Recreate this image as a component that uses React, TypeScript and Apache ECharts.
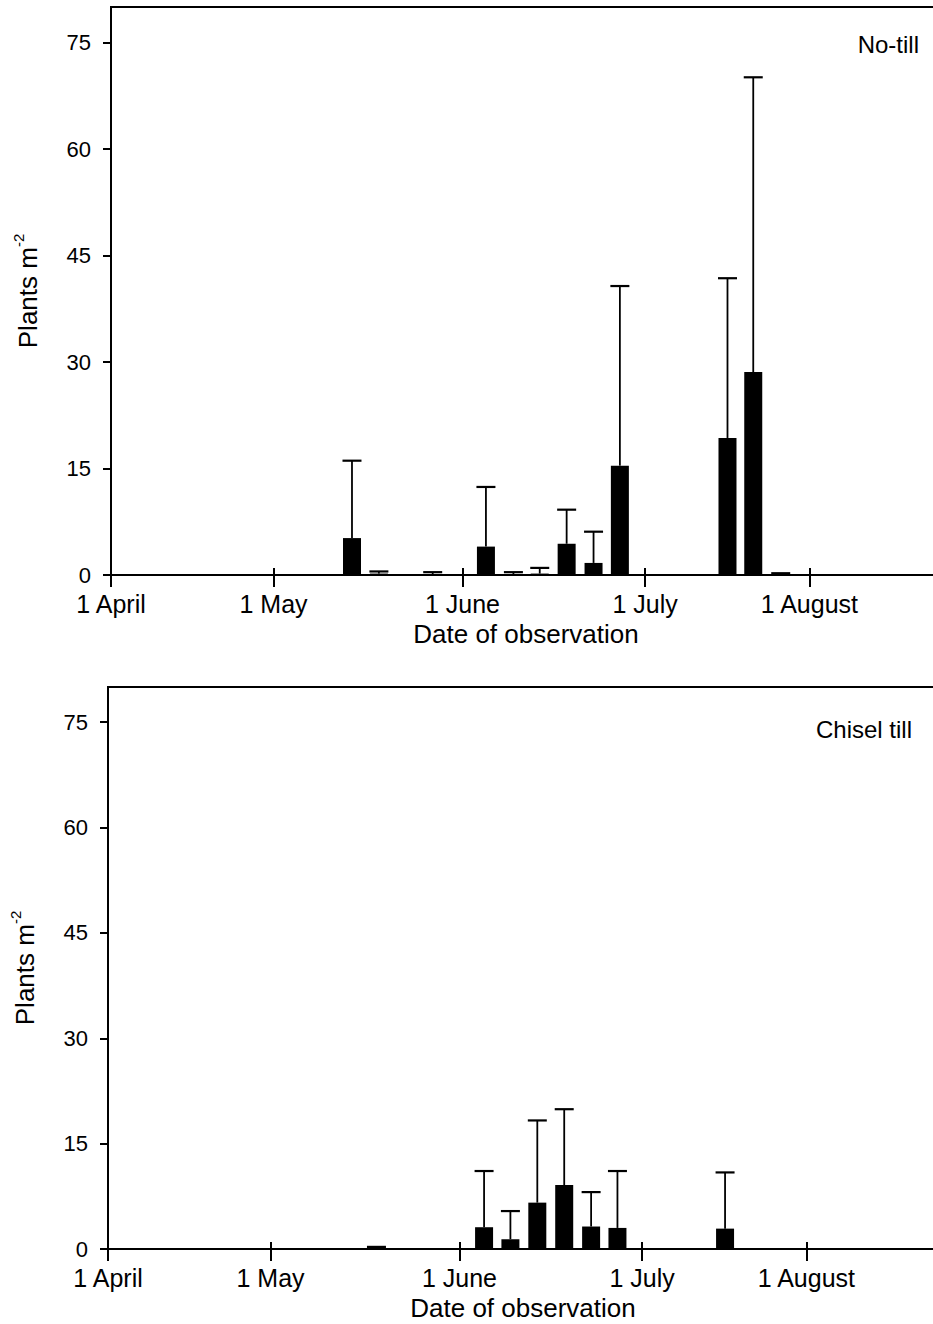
import React, { useEffect, useRef } from "react";
import * as echarts from "echarts";

// x axis unit: days after 1 April (as drawn by the figure's axis)
const monthTickValues = [0, 28.4, 61.4, 93.3, 122];
const monthLabels = ["1 April", "1 May", "1 June", "1 July", "1 August"];
const yTickValues = [0, 15, 30, 45, 60, 75];

// No-till panel
const noTillDays = [42.1, 46.8, 56.2, 65.5, 70.3, 74.9, 79.6, 84.3, 88.9, 107.7, 112.2, 117.0];
const noTillMeans = [5.2, 0.2, 0.1, 4.0, 0.1, 0.2, 4.4, 1.7, 15.4, 19.3, 28.6, 0.05];
const noTillUpper = [16.1, 0.5, 0.4, 12.4, 0.4, 1.0, 9.2, 6.1, 40.7, 41.8, 70.1, 0.25];

// Chisel till panel
const chiselDays = [46.9, 65.7, 70.3, 75.0, 79.7, 84.4, 89.0, 107.8];
const chiselMeans = [0.05, 3.1, 1.4, 6.6, 9.1, 3.2, 3.0, 2.9];
const chiselUpper = [0.3, 11.1, 5.4, 18.3, 19.9, 8.1, 11.1, 10.9];

const FONT = "'Liberation Sans', Arial, Helvetica, sans-serif";

function labelFor(v: number) {
  let best = 0;
  for (let i = 0; i < monthTickValues.length; i++) {
    if (Math.abs(monthTickValues[i] - v) < Math.abs(monthTickValues[best] - v)) best = i;
  }
  return monthLabels[best];
}

function errorRender(params: any, api: any) {
  const x = api.value(0);
  const m = api.value(1);
  const u = api.value(2);
  const pBase = api.coord([x, m]);
  const pTop = api.coord([x, u]);
  const half = 9.5;
  return {
    type: "group",
    children: [
      {
        type: "line",
        shape: { x1: pBase[0], y1: pBase[1], x2: pTop[0], y2: pTop[1] },
        style: { stroke: "#000", lineWidth: 1.8 },
      },
      {
        type: "line",
        shape: { x1: pTop[0] - half, y1: pTop[1], x2: pTop[0] + half, y2: pTop[1] },
        style: { stroke: "#000", lineWidth: 2.2 },
      },
    ],
  };
}

function xAxesFor(gridIndex: number, withName: boolean) {
  return [
    {
      gridIndex,
      type: "value",
      position: "bottom",
      min: 0,
      max: 145,
      name: withName ? "Date of observation" : "",
      nameLocation: "middle",
      nameGap: 46,
      nameTextStyle: { fontSize: 26, color: "#000", fontFamily: FONT },
      axisLine: { show: true, lineStyle: { color: "#000", width: 2 } },
      axisTick: {
        show: true,
        length: 12,
        customValues: monthTickValues,
        lineStyle: { color: "#000", width: 2 },
      },
      axisLabel: {
        show: true,
        customValues: monthTickValues,
        formatter: (v: number) => labelFor(v),
        fontSize: 25,
        color: "#000",
        fontFamily: FONT,
        margin: 16,
      },
      splitLine: { show: false },
    },
    {
      gridIndex,
      type: "value",
      position: "bottom",
      min: 0,
      max: 145,
      axisLine: { show: false },
      axisTick: {
        show: true,
        inside: true,
        length: 7,
        customValues: monthTickValues,
        lineStyle: { color: "#000", width: 2 },
      },
      axisLabel: { show: false },
      splitLine: { show: false },
    },
  ];
}

function yAxisFor(gridIndex: number) {
  return {
    gridIndex,
    type: "value",
    min: 0,
    max: 80,
    name: "{a|Plants m}{b|-2}",
    nameLocation: "middle",
    nameGap: 66,
    nameRotate: 90,
    nameTextStyle: {
      color: "#000",
      fontFamily: FONT,
      rich: {
        a: { fontSize: 26, lineHeight: 34, color: "#000", fontFamily: FONT },
        b: { fontSize: 15, lineHeight: 15, verticalAlign: "top", color: "#000", fontFamily: FONT },
      },
    },
    axisLine: { show: true, lineStyle: { color: "#000", width: 2 } },
    axisTick: {
      show: true,
      length: 8,
      customValues: yTickValues,
      lineStyle: { color: "#000", width: 2 },
    },
    axisLabel: {
      show: true,
      customValues: yTickValues,
      fontSize: 22,
      color: "#000",
      fontFamily: FONT,
      margin: 20,
    },
    splitLine: { show: false },
  };
}

export default function App() {
  const ref = useRef<HTMLDivElement>(null);
  useEffect(() => {
    if (!ref.current) return;
    const chart = echarts.init(ref.current, null, { renderer: "svg" });
    const top = noTillDays.map((d, i) => [d, noTillMeans[i], noTillUpper[i]]);
    const bot = chiselDays.map((d, i) => [d, chiselMeans[i], chiselUpper[i]]);
    chart.setOption({
      animation: false,
      textStyle: { fontFamily: FONT },
      grid: [
        { left: 111, top: 7, width: 830, height: 568, outerBoundsMode: "none", containLabel: false, show: true, borderColor: "#000", borderWidth: 2, backgroundColor: "transparent" },
        { left: 108, top: 687, width: 830, height: 562, outerBoundsMode: "none", containLabel: false, show: true, borderColor: "#000", borderWidth: 2, backgroundColor: "transparent" },
      ],
      xAxis: [...xAxesFor(0, true), ...xAxesFor(1, true)],
      yAxis: [yAxisFor(0), yAxisFor(1)],
      graphic: [
        { type: "text", right: 14, top: 32, style: { text: "No-till", fontSize: 24, fill: "#000", fontFamily: FONT } },
        { type: "text", right: 21, top: 717, style: { text: "Chisel till", fontSize: 24, fill: "#000", fontFamily: FONT } },
      ],
      series: [
        {
          type: "bar",
          xAxisIndex: 0,
          yAxisIndex: 0,
          barWidth: 18,
          itemStyle: { color: "#000" },
          data: top.map((r) => [r[0], r[1]]),
        },
        {
          type: "custom",
          xAxisIndex: 0,
          yAxisIndex: 0,
          renderItem: errorRender,
          encode: { x: 0, y: [1, 2] },
          data: top,
          z: 3,
        },
        {
          type: "bar",
          xAxisIndex: 2,
          yAxisIndex: 1,
          barWidth: 18,
          itemStyle: { color: "#000" },
          data: bot.map((r) => [r[0], r[1]]),
        },
        {
          type: "custom",
          xAxisIndex: 2,
          yAxisIndex: 1,
          renderItem: errorRender,
          encode: { x: 0, y: [1, 2] },
          data: bot,
          z: 3,
        },
      ],
    });
    return () => chart.dispose();
  }, []);
  return (
    <div
      ref={ref}
      style={{ position: "absolute", left: 0, top: 0, width: 933, height: 1324, overflow: "hidden", background: "#fff" }}
    />
  );
}
